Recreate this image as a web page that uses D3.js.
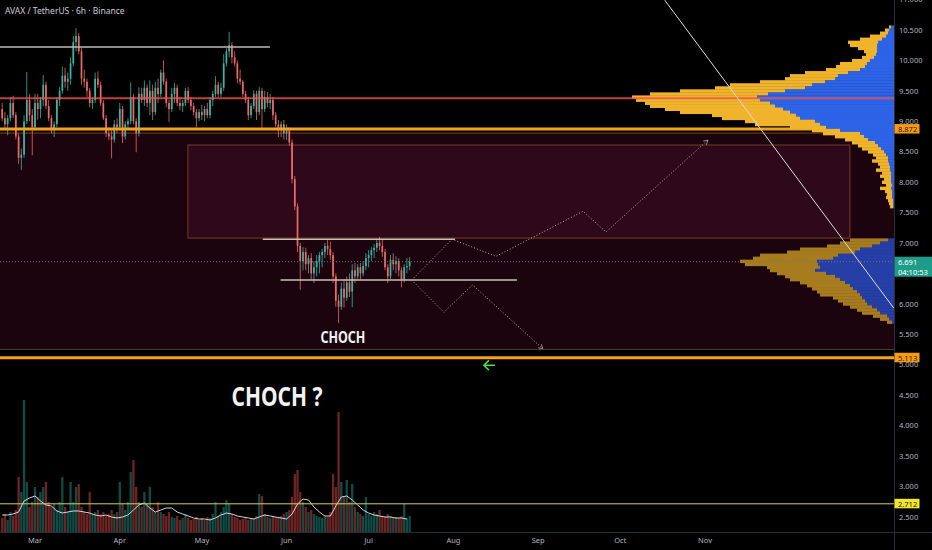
<!DOCTYPE html>
<html>
<head>
<meta charset="utf-8">
<script src="https://cdn.jsdelivr.net/npm/d3@7"></script>
<style>
  body { margin: 0; background: #000; }
  svg { display: block; font-family: "Noto Sans", "DejaVu Sans", sans-serif; }
</style>
</head>
<body>
<svg id="chart" width="932" height="550"></svg>
<script>
// ---- data ----
// daily candles from 2023-02-17, [open, high, low, close]
var candleStart = "2023-02-17";
var ohlc = [
  [9.20,9.30,9.00,9.05],[9.05,9.15,8.85,8.95],[8.95,9.10,8.77,9.05],[9.05,9.40,9.00,9.30],
  [9.30,9.42,9.05,9.10],[9.10,9.15,8.70,8.75],[8.75,8.80,8.30,8.40],[8.40,8.55,8.20,8.45],
  [8.45,9.10,8.40,9.00],[9.00,9.81,8.95,9.35],[9.35,9.45,9.00,9.10],[9.10,9.20,8.44,8.90],
  // Mar
  [8.90,9.45,8.85,9.30],[9.30,9.45,9.03,9.20],[9.20,9.40,9.05,9.35],[9.35,9.76,9.25,9.60],
  [9.60,9.65,9.20,9.25],[9.25,9.35,9.00,9.05],[9.05,9.10,8.80,8.85],[8.85,9.00,8.74,8.95],
  [8.95,9.40,8.90,9.35],[9.35,9.56,9.25,9.50],[9.50,9.90,9.45,9.75],[9.75,9.88,9.55,9.65],
  [9.65,9.80,9.50,9.70],[9.70,10.05,9.60,9.95],[9.95,10.40,9.90,10.30],[10.30,10.53,10.15,10.40],
  [10.40,10.45,10.10,10.15],[10.15,10.20,9.60,9.70],[9.70,9.85,9.55,9.65],[9.65,9.70,9.40,9.50],
  [9.50,9.55,9.23,9.30],[9.30,9.40,9.20,9.35],[9.35,9.80,9.30,9.70],[9.70,9.82,9.55,9.60],
  [9.60,9.65,9.25,9.30],[9.30,9.35,9.02,9.05],[9.05,9.10,8.74,8.80],[8.80,8.90,8.69,8.75],
  [8.75,8.85,8.39,8.70],[8.70,9.02,8.65,8.95],[8.95,9.05,8.81,8.90],
  // Apr
  [8.90,9.30,8.85,9.20],[9.20,9.25,8.64,8.75],[8.75,9.00,8.70,8.95],[8.95,9.05,8.86,9.00],
  [9.00,9.64,8.95,9.40],[9.40,9.45,8.95,9.00],[9.00,9.05,8.49,8.80],[8.80,9.56,8.75,9.45],
  [9.45,9.55,9.30,9.35],[9.35,9.67,9.25,9.55],[9.55,9.60,9.23,9.30],[9.30,9.67,9.10,9.50],
  [9.50,9.60,9.02,9.15],[9.15,9.65,9.10,9.55],[9.55,9.70,9.30,9.45],[9.45,9.85,9.40,9.80],
  [9.80,10.00,9.60,9.65],[9.65,9.70,9.23,9.30],[9.30,9.35,8.99,9.20],[9.20,9.55,9.15,9.45],
  [9.45,9.63,9.30,9.55],[9.55,9.60,9.25,9.30],[9.30,9.40,9.18,9.25],[9.25,9.35,9.15,9.30],
  [9.30,9.55,9.25,9.50],[9.50,9.56,9.30,9.35],[9.35,9.40,9.18,9.25],[9.25,9.30,9.10,9.15],
  [9.15,9.20,8.90,9.05],[9.05,9.20,9.00,9.15],
  // May
  [9.15,9.27,9.02,9.10],[9.10,9.25,9.00,9.20],[9.20,9.30,9.05,9.10],[9.10,9.40,9.05,9.35],
  [9.35,9.50,9.25,9.45],[9.45,9.74,9.40,9.60],[9.60,9.65,9.40,9.45],[9.45,9.63,9.40,9.55],
  [9.55,10.10,9.50,9.95],[9.95,10.20,9.90,10.15],[10.15,10.47,10.05,10.25],[10.25,10.30,9.95,10.05],
  [10.05,10.15,9.90,9.95],[9.95,10.00,9.62,9.70],[9.70,9.85,9.60,9.65],[9.65,9.68,9.40,9.45],
  [9.45,9.50,9.30,9.35],[9.35,9.40,9.02,9.10],[9.10,9.30,9.05,9.25],[9.25,9.51,9.20,9.45],
  [9.45,9.50,9.02,9.15],[9.15,9.56,9.10,9.50],[9.50,9.55,8.86,9.20],[9.20,9.50,9.15,9.40],
  [9.40,9.48,9.23,9.30],[9.30,9.45,9.20,9.35],[9.35,9.40,9.02,9.10],[9.10,9.15,8.90,8.95],
  [8.95,9.02,8.74,8.85],[8.85,9.00,8.74,8.95],[8.95,9.02,8.70,8.80],
  // Jun
  [8.80,8.95,8.69,8.85],[8.85,8.90,8.60,8.65],[8.65,8.70,7.98,8.05],[8.05,8.10,7.54,7.60],
  [7.60,7.65,6.85,6.95],[6.95,7.00,6.23,6.70],[6.70,6.93,6.55,6.85],[6.85,6.92,6.55,6.65],
  [6.65,6.80,6.50,6.75],[6.75,6.83,6.40,6.50],[6.50,6.70,6.34,6.60],[6.60,6.80,6.45,6.70],
  [6.70,6.85,6.50,6.80],[6.80,6.90,6.60,6.85],[6.85,7.00,6.75,6.95],[6.95,7.05,6.80,6.90],
  [6.90,7.02,6.72,6.80],[6.80,6.85,6.34,6.45],[6.45,6.50,5.95,6.05],[6.05,6.15,5.68,5.95],
  [5.95,6.35,5.90,6.25],[6.25,6.40,5.94,6.10],[6.10,6.45,6.05,6.35],[6.35,6.50,6.11,6.20],
  [6.20,6.65,5.94,6.55],[6.55,6.67,6.34,6.45],[6.45,6.65,6.40,6.60],[6.60,6.67,6.40,6.50],
  [6.50,6.70,6.45,6.62],[6.62,6.83,6.55,6.75],
  // Jul
  [6.75,6.88,6.60,6.80],[6.80,6.93,6.70,6.88],[6.88,6.98,6.75,6.92],[6.92,7.05,6.85,7.00],
  [7.00,7.10,6.88,6.95],[6.95,7.05,6.77,6.85],[6.85,6.90,6.55,6.60],[6.60,6.65,6.34,6.45],
  [6.45,6.80,6.40,6.72],[6.72,6.83,6.55,6.65],[6.65,6.78,6.50,6.70],[6.70,6.75,6.45,6.55],
  [6.55,6.60,6.27,6.40],[6.40,6.65,6.35,6.60],[6.60,6.75,6.50,6.62],[6.62,6.77,6.55,6.69]
];

// daily volume (K), same days as the candles
var volume = [
  280,360,240,400,320,440,1100,800,2640,1000,500,600,
  900,700,800,900,1000,600,500,560,440,600,1100,500,400,1000,600,900,960,500,400,360,800,360,400,440,360,400,320,360,440,360,400,
  1000,560,440,600,1200,1440,900,600,500,800,560,900,500,400,600,400,360,320,400,300,280,320,240,280,360,280,240,260,300,240,
  280,240,300,280,360,600,320,400,500,640,560,360,300,280,240,260,280,240,260,280,320,760,720,360,300,280,320,300,280,320,360,
  400,440,700,1160,1240,800,600,500,400,440,360,320,300,280,320,300,400,1160,900,2400,1000,700,1040,600,960,500,400,360,320,700,
  360,320,400,360,440,320,300,360,320,280,300,280,320,560,280,320
];

// volume moving average, one value every 2 days from the first candle
var volumeMA = [
  340,340,360,400,620,680,720,620,540,520,420,380,400,420,420,400,380,340,320,340,
  300,280,300,340,440,540,580,480,400,440,480,480,400,360,320,280,260,260,240,280,
  340,380,360,320,300,280,260,300,340,320,300,280,260,360,560,660,640,500,400,320,
  320,520,700,720,640,540,440,380,340,320,300,300,280,280,260
];

// volume profile rows (0.05 steps from the top price), total and up volume
var vpUpperTop = 10.55;
var vpUpperTotal = [50,90,140,240,340,460,440,360,300,280,320,420,540,580,680,890,1040,1090,1340,1640,
  1790,2140,2440,2620,2580,2490,2440,2290,2140,1820,1720,1490,1390,1040,820,710,590,490,420,360,
  320,260,210,180,220,160,140,180,120,140,100,120,80,140,90,70,80,60,50,40];
var vpUpperUp = [30,50,60,80,120,160,170,170,170,180,200,240,270,290,340,460,560,590,690,820,
  890,1090,1260,1370,1340,1240,1190,1110,1040,980,940,790,740,680,540,340,300,260,190,160,
  130,100,80,60,60,50,40,40,30,30,30,30,20,30,20,20,20,10,10,10];
var vpLowerTop = 7.05;
var vpLowerTotal = [440,540,670,940,1070,1340,1410,1540,1490,1270,1240,1170,1090,1040,940,870,820,770,740,610,
  560,510,440,370,320,210,140,70];
var vpLowerUp = [60,140,220,340,390,560,610,770,760,740,790,680,590,540,490,440,410,370,340,320,
  290,270,220,170,140,70,50,20];

// drawn levels and zones
var levelTop = {price: 10.22, from: "2023-02-01 00:00", to: "2023-05-25 22:00"};
var redLevel = 9.38;
var orangeLevels = [8.872, 5.113];
var volumeLevel = 2.712;
var lastPrice = 6.691;
var rangeLines = [
  {price: 7.06, from: "2023-05-23 07:00", to: "2023-08-01 14:00"},
  {price: 6.39, from: "2023-05-29 19:00", to: "2023-08-24 05:00"}
];
var zone = {top: 8.806, bottom: 5.25};
var box = {from: "2023-04-25 22:00", to: "2023-12-24 00:00", top: 8.61, bottom: 7.08};
var pathUp = [["2023-07-16 18:00",6.39],["2023-07-31 12:00",7.06],["2023-08-16 14:00",6.78],
  ["2023-09-17 10:00",7.52],["2023-09-25 19:00",7.18],["2023-11-02 02:00",8.69]];
var pathDown = [["2023-07-16 18:00",6.39],["2023-07-28 12:00",5.86],["2023-08-08 00:00",6.31],
  ["2023-09-02 17:00",5.26]];
var trendLine = [["2023-10-17 07:00",10.99],["2024-01-09 00:00",5.93]];
var priceTicks = d3.range(2.5, 11.01, 0.5);

// ---- setup ----
var svg = d3.select("#chart");
var plotR = 894, plotB = 532;
var parseT = d3.utcParse("%Y-%m-%d %H:%M");
var parseD = d3.utcParse("%Y-%m-%d");

var x = d3.scaleUtc().domain([Date.UTC(2023,2,1), Date.UTC(2023,10,1)]).range([35, 705]);
var y = d3.scaleLinear().domain([2.5, 10.5]).range([516.7, 30]);
var yVol = d3.scaleLinear().domain([0, 3000]).range([plotB, plotB - 150]);
var vpW = d3.scaleLinear().domain([0, 2620]).range([0, 262]);

var day0 = parseD(candleStart);
var candles = ohlc.map(function(d, i) {
  return {t: d3.utcDay.offset(day0, i), o: d[0], h: d[1], l: d[2], c: d[3], v: volume[i]};
});

svg.append("rect").attr("width", 932).attr("height", 550).attr("fill", "#000");

var defs = svg.append("defs");
defs.append("clipPath").attr("id", "plot")
  .append("rect").attr("x", 0).attr("y", 0).attr("width", plotR).attr("height", plotB);
defs.append("marker").attr("id", "arr")
  .attr("viewBox", "0 0 10 10").attr("refX", 8).attr("refY", 5)
  .attr("markerWidth", 6).attr("markerHeight", 6).attr("orient", "auto")
  .append("path").attr("d", "M1,1 L8,5 L1,9").attr("fill", "none")
  .attr("stroke", "#b9b0b0").attr("stroke-width", 1.2);

var g = svg.append("g").attr("clip-path", "url(#plot)");
var farLeft = Date.UTC(2023,0,1), farRight = Date.UTC(2024,3,1);

// big demand zone
g.append("rect")
  .attr("x", x(farLeft)).attr("y", y(zone.top))
  .attr("width", x(farRight) - x(farLeft)).attr("height", y(zone.bottom) - y(zone.top))
  .attr("fill", "#1b040d");
g.append("line").attr("x1", x(farLeft)).attr("x2", x(farRight))
  .attr("y1", y(zone.top)).attr("y2", y(zone.top))
  .attr("stroke", "#7e4420").attr("stroke-width", 1);
g.append("line").attr("x1", x(farLeft)).attr("x2", x(farRight))
  .attr("y1", y(zone.bottom)).attr("y2", y(zone.bottom))
  .attr("stroke", "#4a4030").attr("stroke-width", 1);

// inner box
g.append("rect")
  .attr("x", x(parseT(box.from))).attr("y", y(box.top))
  .attr("width", x(parseT(box.to)) - x(parseT(box.from)))
  .attr("height", y(box.bottom) - y(box.top))
  .attr("fill", "#2e0919").attr("stroke", "#7a3b26").attr("stroke-width", 1);

// volume bars + MA
g.append("g").selectAll("rect").data(candles).enter().append("rect")
  .attr("x", function(d) { return x(d.t) - 1.15; })
  .attr("y", function(d) { return yVol(d.v); })
  .attr("width", 2.3)
  .attr("height", function(d) { return yVol(0) - yVol(d.v); })
  .attr("fill", function(d) { return d.c >= d.o ? "rgba(38,166,154,0.45)" : "rgba(239,83,80,0.45)"; });

g.append("path")
  .datum(volumeMA)
  .attr("fill", "none").attr("stroke", "#d4d4d8").attr("stroke-width", 1)
  .attr("d", d3.line()
    .x(function(d, i) { return x(d3.utcDay.offset(day0, i * 2)); })
    .y(function(d) { return yVol(d); }));

// 2.712 level
g.append("line").attr("x1", 0).attr("x2", plotR)
  .attr("y1", y(volumeLevel)).attr("y2", y(volumeLevel))
  .attr("stroke", "#d8cf63").attr("stroke-width", 1);

// candles
var cg = g.append("g");
cg.selectAll("line").data(candles).enter().append("line")
  .attr("x1", function(d) { return x(d.t); }).attr("x2", function(d) { return x(d.t); })
  .attr("y1", function(d) { return y(d.h); }).attr("y2", function(d) { return y(d.l); })
  .attr("stroke", function(d) { return d.c >= d.o ? "#3fb3a3" : "#e96a69"; })
  .attr("stroke-width", 0.8);
cg.selectAll("rect").data(candles).enter().append("rect")
  .attr("x", function(d) { return x(d.t) - 0.85; })
  .attr("width", 1.7)
  .attr("y", function(d) { return y(Math.max(d.o, d.c)); })
  .attr("height", function(d) { return Math.max(0.8, Math.abs(y(d.o) - y(d.c))); })
  .attr("fill", function(d) { return d.c >= d.o ? "#3fb3a3" : "#e96a69"; });

// gray range lines
g.append("line")
  .attr("x1", x(parseT(levelTop.from))).attr("x2", x(parseT(levelTop.to)))
  .attr("y1", y(levelTop.price)).attr("y2", y(levelTop.price))
  .attr("stroke", "#bdbab6").attr("stroke-width", 1.5);
rangeLines.forEach(function(r) {
  g.append("line")
    .attr("x1", x(parseT(r.from))).attr("x2", x(parseT(r.to)))
    .attr("y1", y(r.price)).attr("y2", y(r.price))
    .attr("stroke", "#c9c0b8").attr("stroke-width", 1.5);
});

// orange levels
orangeLevels.forEach(function(p) {
  g.append("line").attr("x1", 0).attr("x2", plotR)
    .attr("y1", y(p)).attr("y2", y(p))
    .attr("stroke", "#f7a21b").attr("stroke-width", 3);
});

// volume profiles
function drawProfile(top, tot, up, colDown, colUp) {
  var pg = g.append("g");
  tot.forEach(function(v, i) {
    var p = +(top - i * 0.05).toFixed(2);
    var y0 = y(p + 0.025), y1 = y(p - 0.025);
    pg.append("rect").attr("x", plotR - vpW(v)).attr("y", y0)
      .attr("width", vpW(v) - vpW(up[i])).attr("height", y1 - y0 + 0.4).attr("fill", colDown);
    pg.append("rect").attr("x", plotR - vpW(up[i])).attr("y", y0)
      .attr("width", vpW(up[i])).attr("height", y1 - y0 + 0.4).attr("fill", colUp);
  });
}
drawProfile(vpUpperTop, vpUpperTotal, vpUpperUp, "#efb42c", "#2d63e6");
drawProfile(vpLowerTop, vpLowerTotal, vpLowerUp, "#a77c1e", "#253fa6");

// red level
g.append("line").attr("x1", 0).attr("x2", plotR)
  .attr("y1", y(redLevel)).attr("y2", y(redLevel))
  .attr("stroke", "#f0524f").attr("stroke-opacity", 0.8).attr("stroke-width", 2);

// last price line
g.append("line").attr("x1", 0).attr("x2", plotR)
  .attr("y1", y(lastPrice)).attr("y2", y(lastPrice))
  .attr("stroke", "#6f727c").attr("stroke-width", 1).attr("stroke-dasharray", "1,2");

// trend line
g.append("line")
  .attr("x1", x(parseT(trendLine[0][0]))).attr("y1", y(trendLine[0][1]))
  .attr("x2", x(parseT(trendLine[1][0]))).attr("y2", y(trendLine[1][1]))
  .attr("stroke", "#dcdcdc").attr("stroke-width", 1);

// projection paths
var projLine = d3.line()
  .x(function(d) { return x(parseT(d[0])); })
  .y(function(d) { return y(d[1]); });
[pathUp, pathDown].forEach(function(pts) {
  g.append("path").attr("d", projLine(pts))
    .attr("fill", "none").attr("stroke", "#b9b0b0").attr("stroke-width", 1)
    .attr("stroke-dasharray", "1,2").attr("marker-end", "url(#arr)");
});

// annotations
g.append("text").text("CHOCH")
  .attr("x", x(parseT("2023-06-21 14:00"))).attr("y", y(5.355))
  .attr("text-anchor", "middle").attr("fill", "#f2f2f2")
  .attr("font-size", 16).attr("font-weight", "bold")
  .attr("textLength", 45).attr("lengthAdjust", "spacingAndGlyphs");
g.append("text").text("CHOCH ?")
  .attr("x", x(parseT("2023-05-28 12:00"))).attr("y", y(4.32))
  .attr("text-anchor", "middle").attr("fill", "#f2f2f2")
  .attr("font-size", 26).attr("font-weight", "bold")
  .attr("textLength", 91).attr("lengthAdjust", "spacingAndGlyphs");

var ax = x(parseT("2023-08-14 00:00")), ay = y(4.99);
g.append("path")
  .attr("d", "M" + (ax + 6) + "," + ay + "H" + (ax - 5) +
             "M" + (ax) + "," + (ay - 5) + "L" + (ax - 5) + "," + ay + "L" + ax + "," + (ay + 5))
  .attr("fill", "none").attr("stroke", "#4fe04f").attr("stroke-width", 1.6);

// title
svg.append("text").text("AVAX / TetherUS · 6h · Binance")
  .attr("x", 5).attr("y", 14).attr("fill", "#c9ccd4").attr("font-size", 8.5);

// ---- axes ----
svg.append("line").attr("x1", plotR + 0.5).attr("x2", plotR + 0.5).attr("y1", 0).attr("y2", 550)
  .attr("stroke", "#2a2e39");
svg.append("line").attr("x1", 0).attr("x2", 932).attr("y1", plotB + 0.5).attr("y2", plotB + 0.5)
  .attr("stroke", "#2a2e39");

// tick labels hidden under the last-price tag are not shown (as in the reference)
var fmt = d3.format(".3f");
svg.append("g").selectAll("text")
  .data(priceTicks.filter(function(d) { return Math.abs(y(d) - y(lastPrice)) > 14; }))
  .enter().append("text")
  .attr("x", plotR + 5).attr("y", function(d) { return y(d) + 2.8; })
  .attr("fill", "#b2b5be").attr("font-size", 7.5)
  .text(function(d) { return fmt(d); });

var months = d3.utcMonths(Date.UTC(2023,2,1), Date.UTC(2023,10,2));
svg.append("g").selectAll("text").data(months).enter().append("text")
  .attr("x", function(d) { return x(d); }).attr("y", 543)
  .attr("text-anchor", "middle").attr("fill", "#b2b5be").attr("font-size", 7.5)
  .text(d3.utcFormat("%b"));

// price tags
function tag(p, bg, fg, lines, w, h) {
  var yy = y(p);
  var tg = svg.append("g");
  tg.append("rect").attr("x", plotR + 0.5).attr("y", yy - 5).attr("width", w).attr("height", h)
    .attr("fill", bg);
  lines.forEach(function(t, i) {
    tg.append("text").text(t).attr("x", plotR + 4).attr("y", yy + 2.8 + i * 10.5)
      .attr("fill", fg).attr("font-size", 7.5);
  });
}
tag(orangeLevels[0], "#f79a14", "#1a1a1a", [fmt(orangeLevels[0])], 25, 9.5);
tag(orangeLevels[1], "#f79a14", "#1a1a1a", [fmt(orangeLevels[1])], 25, 9.5);
tag(volumeLevel, "#f2e530", "#1a1a1a", [fmt(volumeLevel)], 25, 9.5);
tag(lastPrice, "#1e9c8a", "#ffffff", [fmt(lastPrice), "04:10:53"], 38, 20);
</script>
</body>
</html>
